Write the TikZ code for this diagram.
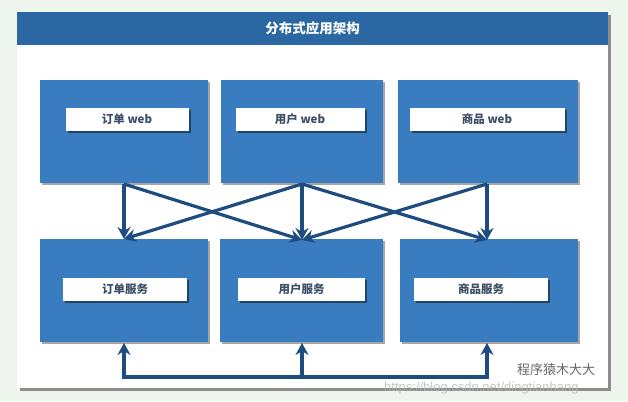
\documentclass[tikz,border=0pt]{standalone}
\usepackage{fontspec}
\setmainfont{Liberation Sans}
\newfontfamily\cjk{Noto Sans CJK SC}
\usetikzlibrary{arrows.meta,shadows}
\definecolor{bgc}{HTML}{EEF5EC}
\definecolor{barc}{HTML}{2B67A3}
\definecolor{boxc}{HTML}{3A7CC0}
\definecolor{arrc}{HTML}{1E4C7E}
\definecolor{lblc}{HTML}{3C4F66}
\tikzset{
  bluebox/.style={fill=boxc, draw=none, minimum width=#1, minimum height=103pt, inner sep=0pt,
    drop shadow={shadow xshift=2pt, shadow yshift=-2pt, fill=black, opacity=0.35}},
  lblbox/.style={fill=white, draw=none, minimum height=23pt, minimum width=#1, inner sep=0pt,
    font=\cjk\bfseries\fontsize{11.5}{13}\selectfont, text=lblc,
    drop shadow={shadow xshift=2pt, shadow yshift=-2pt, fill=black, opacity=0.45}},
  conn/.style={draw=arrc, line width=3.2pt, -{Stealth[length=12pt,width=13pt]}},
  plainconn/.style={draw=arrc, line width=3.2pt},
}
\begin{document}
\begin{tikzpicture}[x=1pt,y=-1pt]
\useasboundingbox (0,0) rectangle (628,401);
\fill[bgc] (0,0) rectangle (628,401);
% panel
\fill[black!45] (20,15) rectangle (611,391);
\fill[white] (17,12) rectangle (608,388);
\node[fill=barc, minimum width=591pt, minimum height=33pt, inner sep=0pt, anchor=north west,
  text=white, font=\cjk\bfseries\fontsize{13.5}{15}\selectfont] (title) at (17,12) {分布式应用架构};
% top boxes
\node[bluebox=168pt] (tw1) at (124,131.5) {};
\node[bluebox=162pt] (tw2) at (302,131.5) {};
\node[bluebox=180pt] (tw3) at (488,131.5) {};
\node[lblbox=123pt] (lw1) at (127,119.5) {订单 web};
\node[lblbox=129pt] (lw2) at (300,119.5) {用户 web};
\node[lblbox=155pt] (lw3) at (487,119.5) {商品 web};
% bottom boxes
\node[bluebox=168pt] (bs1) at (124,290) {};
\node[bluebox=163pt] (bs2) at (301.5,290) {};
\node[bluebox=178pt] (bs3) at (489,290) {};
\node[lblbox=124pt] (ls1) at (125,289.5) {订单服务};
\node[lblbox=127pt] (ls2) at (301.5,289.5) {用户服务};
\node[lblbox=134pt] (ls3) at (481,289.5) {商品服务};
% anchor points
\coordinate (a1) at (124,184);
\coordinate (a2) at (302,184);
\coordinate (a3) at (487,184);
\coordinate (b1) at (124,239);
\coordinate (b2) at (302,240);
\coordinate (b3) at (487,240);
\coordinate (c1) at (124,343);
\coordinate (c2) at (302,343);
\coordinate (c3) at (487,343);
\coordinate (d1) at (124,377);
\coordinate (d2) at (302,377);
\coordinate (d3) at (487,377);
% top-to-bottom arrows
\draw[conn] (a1) -- (b1);
\draw[conn] (a2) -- (b2);
\draw[conn] (a3) -- (b3);
\draw[conn] (a1) -- (b2);
\draw[conn] (a2) -- (b1);
\draw[conn] (a2) -- (b3);
\draw[conn] (a3) -- (b2);
% bottom bus
\draw[plainconn, line cap=rect] (d1) -- (d3);
\draw[conn] (d1) -- (c1);
\draw[conn] (d2) -- (c2);
\draw[conn] (d3) -- (c3);
% watermark
\node[text=black!60, font=\cjk\fontsize{13}{14}\selectfont, anchor=west, inner sep=1pt] (wm) at (516,370) {程序猿木大大};
\node[text=white!72!black, font=\fontsize{13}{15}\selectfont, anchor=west, opacity=0.8, inner sep=1pt] (url) at (383,388) {https://blog.csdn.net/dingtianhang};
\end{tikzpicture}
\end{document}
